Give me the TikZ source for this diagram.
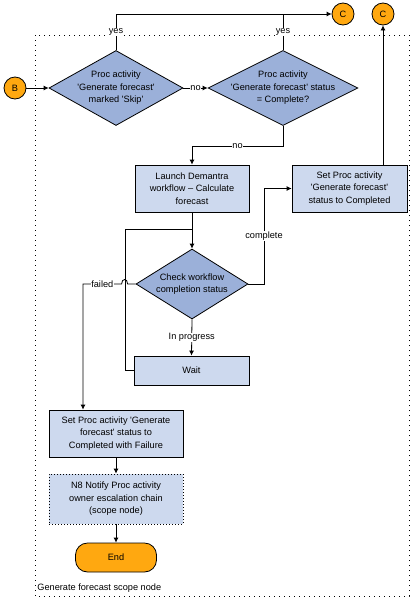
\documentclass[tikz,border=0pt]{standalone}
\usepackage{fontspec}
\setmainfont{Liberation Sans}
\usepackage{tikz}
\usetikzlibrary{shapes.geometric,arrows.meta}
\definecolor{diablue}{HTML}{9BB0D9}
\definecolor{boxblue}{HTML}{CDD9EE}
\definecolor{orng}{HTML}{FFA810}
\def\q{\textquotesingle}

\begin{document}
\begin{tikzpicture}[x=1pt, y=-1pt, line width=0.8pt,
  >={Latex[length=5pt,width=5pt]},
  every node/.style={font=\fontsize{9.2}{12.6}\selectfont},
  dia/.style={draw, diamond, fill=diablue, inner sep=0pt},
  box/.style={draw, rectangle, fill=boxblue, align=center, inner sep=1pt},
  conn/.style={draw, circle, fill=orng, minimum size=22pt, inner sep=0pt},
  lbl/.style={fill=white, inner sep=0.5pt}]
\useasboundingbox (0,0) rectangle (414,600);
%scope
\draw[dash pattern=on 1pt off 4pt] (35,35) rectangle (409,596);
\node[anchor=west, inner sep=0pt] (scope) at (37,588) {Generate forecast scope node};
%connectors
\node[conn] (b) at (15,88) {B};
\node[conn] (c1) at (343,14) {C};
\node[conn] (c2) at (383,14) {C};
%decisions
\node[dia, minimum width=134pt, minimum height=75pt, label={[align=center]center:{Proc activity\\\q Generate forecast\q\\marked \q Skip\q}}] (skip) at (116,88) {};
\node[dia, minimum width=150pt, minimum height=75pt, label={[align=center]center:{Proc activity\\\q Generate forecast\q{} status\\= Complete?}}] (done) at (283,88) {};
\node[dia, minimum width=112pt, minimum height=70pt, label={[align=center]center:{Check workflow\\completion status}}] (check) at (192,284) {};
%boxes
\node[box, minimum width=114pt, minimum height=47pt] (launch) at (192,188.5) {Launch Demantra\\workflow -- Calculate\\forecast};
\node[box, minimum width=115pt, minimum height=47pt] (setc) at (349.5,188.5) {Set Proc activity\\\q Generate forecast\q\\status to Completed};
\node[box, minimum width=115pt, minimum height=29pt] (wait) at (191.5,370.5) {Wait};
\node[box, minimum width=134pt, minimum height=47pt] (fail) at (116,433.5) {Set Proc activity \q Generate\\forecast\q{} status to\\Completed with Failure};
\node[box, dash pattern=on 1pt off 2pt, minimum width=134pt, minimum height=50pt] (note) at (116,499) {N8 Notify Proc activity\\owner escalation chain\\(scope node)};
\node[draw, fill=orng, rounded corners=12pt, minimum width=81pt, minimum height=29pt] (stop) at (116,557.5) {End};
%dummy coordinates
\coordinate (back) at (125,229);
\coordinate (cp) at (264,284);
\coordinate (fl) at (83,284);
%arrows
\draw[->] (b) -- (skip.west);
\draw[->] (skip.east) -- node[lbl]{no} (done.west);
\draw[->] (skip.north) |- node[lbl, pos=0.25]{yes} (c1.west);
\draw (done.north) -- node[lbl]{yes} (done.north |- c1.west);
\draw[->] (done.south) -- ++(0,20) -| node[lbl, pos=0.25]{no} (launch.north);
\draw[->] (launch.south) -- (check.north);
\draw (wait.west) -| (back) -- (back -| launch.south);
\draw[->] (check.east) -- (cp) |- node[lbl, pos=0.25]{complete} (setc.west);
\draw[->] (check.south) -- node[lbl]{In progress} (wait.north);
\draw[->] (check.west) -- ++(-8,0) .. controls +(0,-6) and +(0,-6) .. ++(-6,0) -- node[lbl]{failed} (fl) -- (fl |- fail.north);
\draw[->] (setc.north -| c2.south) -- (c2.south);
\draw[->] (fail.south) -- (note.north);
\draw[->] (note.south) -- (stop.north);
\end{tikzpicture}
\end{document}
